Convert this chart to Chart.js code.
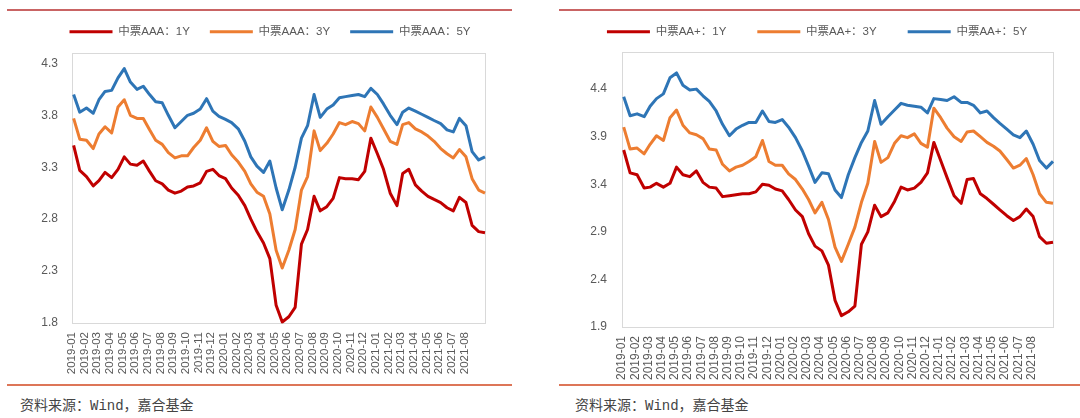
<!DOCTYPE html>
<html><head><meta charset="utf-8">
<script src="https://cdn.jsdelivr.net/npm/chart.js@4.4.1/dist/chart.umd.min.js"></script>
<style>
html,body{margin:0;padding:0;background:#fff;}
#wrap{position:relative;width:1080px;height:418px;overflow:hidden;}
.rule{position:absolute;height:2px;}
.box{position:absolute;width:540px;}
.src{position:absolute;top:394px;font-size:14px;color:#444;font-family:"Liberation Mono","Noto Sans CJK SC",monospace;white-space:nowrap;}
</style></head><body>
<div id="wrap">
 <div class="box" style="left:0;top:6px;height:379px"><canvas id="c1"></canvas></div>
 <div class="box" style="left:540px;top:-5px;height:390px"><canvas id="c2"></canvas></div>
 <div class="rule" style="left:7px;width:505px;top:9px;background:#c96464"></div>
 <div class="rule" style="left:559px;width:521px;top:9px;background:#c96464"></div>
 <div class="rule" style="left:7px;width:505px;top:384px;background:#dd7658"></div>
 <div class="rule" style="left:559px;width:521px;top:384px;background:#dd7658"></div>
 <div class="src" style="left:20px">资料来源：Wind，嘉合基金</div>
 <div class="src" style="left:575px">资料来源：Wind，嘉合基金</div>
</div>
<script>
const dates = [
 '2019-01-05','2019-01-20','2019-02-05','2019-02-20','2019-03-05','2019-03-20','2019-04-05','2019-04-20',
 '2019-05-05','2019-05-20','2019-06-05','2019-06-20','2019-07-05','2019-07-20','2019-08-05','2019-08-20',
 '2019-09-05','2019-09-20','2019-10-05','2019-10-20','2019-11-05','2019-11-20','2019-12-05','2019-12-20',
 '2020-01-05','2020-01-20','2020-02-05','2020-02-20','2020-03-05','2020-03-20','2020-04-05','2020-04-20',
 '2020-05-05','2020-05-20','2020-06-05','2020-06-20','2020-07-05','2020-07-20','2020-08-05','2020-08-20',
 '2020-09-05','2020-09-20','2020-10-05','2020-10-20','2020-11-05','2020-11-20','2020-12-05','2020-12-20',
 '2021-01-05','2021-01-20','2021-02-05','2021-02-20','2021-03-05','2021-03-20','2021-04-05','2021-04-20',
 '2021-05-05','2021-05-20','2021-06-05','2021-06-20','2021-07-05','2021-07-20','2021-08-05','2021-08-20',
 '2021-09-05','2021-09-20'
];
const xTickLabels = [
 '2019-01','2019-02','2019-03','2019-04','2019-05','2019-06','2019-07','2019-08','2019-09','2019-10','2019-11','2019-12',
 '2020-01','2020-02','2020-03','2020-04','2020-05','2020-06','2020-07','2020-08','2020-09','2020-10','2020-11','2020-12',
 '2021-01','2021-02','2021-03','2021-04','2021-05','2021-06','2021-07','2021-08'
];
const aaaNames = ['中票AAA：1Y','中票AAA：3Y','中票AAA：5Y'];
const aapNames = ['中票AA+：1Y','中票AA+：3Y','中票AA+：5Y'];

const aaa1y = [3.51,3.27,3.21,3.12,3.17,3.25,3.20,3.28,3.40,3.33,3.32,3.36,3.26,3.17,3.14,3.08,3.05,3.07,3.11,3.12,3.15,3.26,3.28,3.22,3.19,3.10,3.03,2.93,2.80,2.68,2.57,2.42,1.97,1.81,1.86,1.95,2.56,2.70,3.02,2.88,2.92,3.00,3.20,3.19,3.19,3.18,3.26,3.58,3.43,3.28,3.05,2.93,3.24,3.28,3.13,3.07,3.02,2.99,2.96,2.91,2.88,3.01,2.96,2.74,2.68,2.67];
const aaa3y = [3.77,3.57,3.56,3.48,3.62,3.69,3.63,3.88,3.95,3.80,3.77,3.77,3.66,3.56,3.52,3.44,3.39,3.41,3.41,3.49,3.56,3.68,3.55,3.50,3.51,3.42,3.35,3.26,3.14,3.06,3.02,2.85,2.50,2.33,2.50,2.70,3.08,3.21,3.65,3.46,3.53,3.62,3.73,3.71,3.74,3.72,3.65,3.88,3.78,3.67,3.55,3.52,3.71,3.73,3.67,3.64,3.60,3.55,3.48,3.43,3.39,3.47,3.40,3.19,3.08,3.05];
const aaa5y = [4.00,3.83,3.87,3.82,3.95,4.03,4.04,4.16,4.25,4.12,4.05,4.08,4.00,3.93,3.92,3.80,3.68,3.74,3.80,3.82,3.86,3.96,3.84,3.79,3.76,3.73,3.67,3.55,3.40,3.31,3.25,3.36,3.10,2.89,3.08,3.30,3.58,3.70,4.00,3.78,3.86,3.90,3.97,3.98,3.99,4.00,3.98,4.06,4.00,3.91,3.80,3.71,3.83,3.87,3.84,3.81,3.78,3.75,3.72,3.66,3.64,3.77,3.70,3.45,3.37,3.40];

const aap1y = [3.76,3.52,3.50,3.36,3.37,3.41,3.37,3.41,3.58,3.50,3.48,3.54,3.42,3.37,3.36,3.27,3.28,3.29,3.30,3.30,3.32,3.40,3.39,3.35,3.33,3.24,3.13,3.06,2.88,2.75,2.70,2.55,2.18,2.02,2.06,2.12,2.77,2.90,3.18,3.06,3.10,3.22,3.37,3.34,3.36,3.42,3.52,3.84,3.65,3.47,3.28,3.20,3.45,3.46,3.30,3.25,3.19,3.13,3.07,3.02,3.06,3.14,3.06,2.85,2.78,2.79];
const aap3y = [4.00,3.77,3.78,3.72,3.82,3.91,3.86,4.10,4.18,4.02,3.94,3.92,3.88,3.77,3.76,3.61,3.54,3.58,3.60,3.64,3.69,3.86,3.64,3.60,3.60,3.51,3.45,3.35,3.24,3.10,3.21,3.03,2.74,2.59,2.77,2.95,3.21,3.41,3.85,3.63,3.68,3.83,3.91,3.89,3.93,3.83,3.79,4.20,4.10,3.99,3.90,3.85,3.95,3.96,3.90,3.84,3.80,3.75,3.66,3.57,3.60,3.67,3.50,3.30,3.21,3.20];
const aap5y = [4.32,4.12,4.14,4.11,4.22,4.30,4.35,4.52,4.57,4.44,4.39,4.40,4.33,4.27,4.17,4.03,3.91,3.98,4.02,4.05,4.05,4.17,4.06,4.05,4.08,4.00,3.89,3.75,3.59,3.42,3.52,3.51,3.34,3.26,3.50,3.68,3.84,3.96,4.28,4.03,4.11,4.18,4.25,4.23,4.22,4.21,4.15,4.30,4.29,4.28,4.32,4.26,4.26,4.23,4.15,4.17,4.10,4.04,3.98,3.92,3.89,3.96,3.82,3.65,3.57,3.64];

const leftYTicks = [1.8,2.3,2.8,3.3,3.8,4.3];
const rightYTicks = [1.9,2.4,2.9,3.4,3.9,4.4];

const COLORS = ['#C00000','#ED7D31','#2E75B6'];
const FONT = '"Liberation Sans","Noto Sans CJK SC",sans-serif';
const TXT = '#595959';

function monthPos(s){
  const [y,m,d] = s.split('-').map(Number);
  const dim = new Date(y, m, 0).getDate();
  return (y-2019)*12 + (m-1) + (d-1)/dim;
}
const xs = dates.map(monthPos);

const frame = {
  id: 'frame',
  beforeDatasetsDraw(chart){
    const {ctx, chartArea: a} = chart;
    ctx.save();
    ctx.strokeStyle = '#d9d9d9';
    ctx.lineWidth = 1;
    ctx.strokeRect(Math.round(a.left)+0.5, Math.round(a.top)+0.5, Math.round(a.right-a.left), Math.round(a.bottom-a.top));
    ctx.restore();
  }
};

function makeChart(id, names, series, yMin, yMax, yTicks, cfg){
  return new Chart(document.getElementById(id), {
    type: 'line',
    data: {
      datasets: series.map((vals, i) => ({
        label: names[i],
        data: vals.map((v, j) => ({x: xs[j], y: v})),
        borderColor: COLORS[i],
        backgroundColor: COLORS[i],
        borderWidth: 3,
        pointRadius: 0,
        tension: 0,
        borderJoinStyle: 'round',
        borderCapStyle: 'butt',
        clip: false
      }))
    },
    options: {
      responsive: true,
      maintainAspectRatio: false,
      animation: false,
      layout: {padding: {left: cfg.padL, right: 0, top: 0, bottom: 0}},
      plugins: {
        legend: {
          position: 'top',
          labels: {
            usePointStyle: true, pointStyle: 'line', pointStyleWidth: 43,
            padding: cfg.legendPad, color: TXT,
            font: {family: FONT, size: 11.5}
          }
        },
        title: {display: true, text: ' ', weight: 500, font: {size: 1, lineHeight: 1}, padding: {top: 0, bottom: cfg.spacer - 1}},
        tooltip: {enabled: false}
      },
      scales: {
        x: {
          type: 'linear', min: 0, max: xs[xs.length-1],
          grid: {display: false, drawTicks: false},
          border: {display: false},
          afterBuildTicks: s => { s.ticks = xTickLabels.map((_, i) => ({value: i})); },
          afterFit: s => { s.height = cfg.xH; },
          ticks: {
            autoSkip: false, minRotation: 90, maxRotation: 90, padding: 9,
            color: TXT, font: {family: FONT, size: cfg.xFont},
            callback: (v, i) => xTickLabels[i]
          }
        },
        y: {
          min: yMin, max: yMax,
          grid: {display: false, drawTicks: false},
          border: {display: false},
          afterBuildTicks: s => { s.ticks = yTicks.map(v => ({value: v})); },
          afterFit: s => { s.width = cfg.yW; },
          ticks: {
            padding: cfg.yPad, color: TXT, font: {family: FONT, size: 12},
            callback: v => Number(v).toFixed(1)
          }
        },
        gap: {
          position: 'right', display: true,
          grid: {display: false, drawTicks: false},
          border: {display: false},
          ticks: {display: false},
          afterFit: s => { s.width = cfg.rightGap; }
        }
      }
    },
    plugins: [frame]
  });
}

// left: chart area x 72..485 ; legend centred at 264.5
makeChart('c1', aaaNames, [aaa1y, aaa3y, aaa5y], 1.8, 4.4, leftYTicks,
  {padL: 0, yW: 72, rightGap: 55, yPad: 14, xH: 62, legendPad: 20, spacer: 5.5, xFont: 11.5});
// right: chart area x 622..1053 (canvas 82..513) ; legend centred at 817 (canvas 277)
makeChart('c2', aapNames, [aap1y, aap3y, aap5y], 1.9, 4.79, rightYTicks,
  {padL: 14, yW: 68, rightGap: 27, yPad: 15, xH: 58, legendPad: 31, spacer: 4.5, xFont: 12});
</script>
</body></html>
